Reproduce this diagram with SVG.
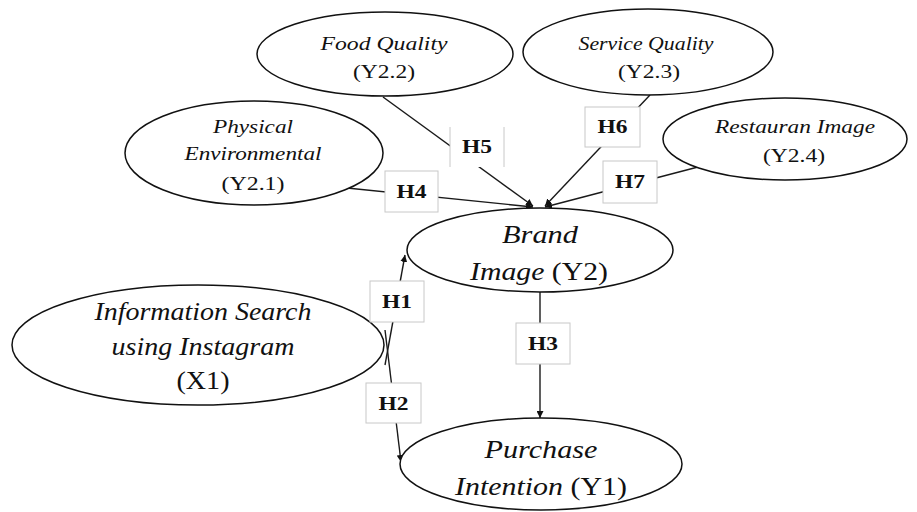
<svg xmlns="http://www.w3.org/2000/svg" width="917" height="512" viewBox="0 0 917 512">
<style>
.node ellipse{fill:#fff;stroke:#111;stroke-width:1.5}
.t{fill:#111;text-anchor:middle}
.i{font-style:italic}
.lbl rect{fill:#fff;stroke:#c8c8c8;stroke-width:1}
.lbl text{font-weight:bold;font-size:18px;fill:#111;text-anchor:middle}
.c{stroke:#1a1a1a;stroke-width:1.4;fill:none}
</style>
<defs>
<marker id="ah" viewBox="0 0 10 10" refX="10" refY="5" markerWidth="7" markerHeight="7" orient="auto" markerUnits="userSpaceOnUse">
<path d="M0,0 L10,5 L0,10 z" fill="#111"/>
</marker>
</defs>
<g id="connectors">
<line class="c" x1="383" y1="97" x2="533" y2="206" marker-end="url(#ah)"/>
<line class="c" x1="650" y1="95" x2="545" y2="206" marker-end="url(#ah)"/>
<line class="c" x1="698" y1="167" x2="545" y2="207" marker-end="url(#ah)"/>
<line class="c" x1="347" y1="188" x2="533" y2="207" marker-end="url(#ah)"/>
<line class="c" x1="385" y1="365" x2="405" y2="255" marker-end="url(#ah)"/>
<line class="c" x1="385" y1="330" x2="401" y2="462" marker-end="url(#ah)"/>
<line class="c" x1="540" y1="292" x2="540" y2="418" marker-end="url(#ah)"/>
</g>
<g font-family="Liberation Serif, Times New Roman, Times, serif">
<g id="food" class="node">
<ellipse cx="385" cy="54" rx="128" ry="42"/>
<text class="t i" x="384" y="50" font-size="19" textLength="127" lengthAdjust="spacingAndGlyphs">Food Quality</text>
<text class="t" x="384" y="78" font-size="19" textLength="62" lengthAdjust="spacingAndGlyphs">(Y2.2)</text>
</g>
<g id="service" class="node">
<ellipse cx="648" cy="52" rx="125" ry="43"/>
<text class="t i" x="646" y="50" font-size="19" textLength="135" lengthAdjust="spacingAndGlyphs">Service Quality</text>
<text class="t" x="649" y="78" font-size="19" textLength="62" lengthAdjust="spacingAndGlyphs">(Y2.3)</text>
</g>
<g id="physical" class="node">
<ellipse cx="254" cy="153" rx="129" ry="52"/>
<text class="t i" x="253" y="133" font-size="19" textLength="80" lengthAdjust="spacingAndGlyphs">Physical</text>
<text class="t i" x="253" y="160" font-size="19" textLength="137" lengthAdjust="spacingAndGlyphs">Environmental</text>
<text class="t" x="253" y="190" font-size="19" textLength="63" lengthAdjust="spacingAndGlyphs">(Y2.1)</text>
</g>
<g id="restaurant" class="node">
<ellipse cx="785" cy="139" rx="122" ry="41"/>
<text class="t i" x="795" y="133" font-size="19" textLength="160" lengthAdjust="spacingAndGlyphs">Restauran Image</text>
<text class="t" x="794" y="162" font-size="19" textLength="62" lengthAdjust="spacingAndGlyphs">(Y2.4)</text>
</g>
<g id="brand" class="node">
<ellipse cx="540" cy="250" rx="133" ry="42"/>
<text class="t i" x="540" y="243" font-size="25" textLength="76" lengthAdjust="spacingAndGlyphs">Brand</text>
<text class="t" x="539" y="280" font-size="25" textLength="138" lengthAdjust="spacingAndGlyphs"><tspan class="i">Image</tspan> (Y2)</text>
</g>
<g id="info" class="node">
<ellipse cx="198" cy="345" rx="186" ry="60"/>
<text class="t i" x="203" y="320" font-size="25" textLength="217" lengthAdjust="spacingAndGlyphs">Information Search</text>
<text class="t i" x="203" y="355" font-size="25" textLength="183" lengthAdjust="spacingAndGlyphs">using Instagram</text>
<text class="t" x="203" y="389" font-size="25" textLength="53" lengthAdjust="spacingAndGlyphs">(X1)</text>
</g>
<g id="purchase" class="node">
<ellipse cx="541" cy="464" rx="141" ry="46"/>
<text class="t i" x="541" y="458" font-size="25" textLength="113" lengthAdjust="spacingAndGlyphs">Purchase</text>
<text class="t" x="541" y="495" font-size="25" textLength="172" lengthAdjust="spacingAndGlyphs"><tspan class="i">Intention</tspan> (Y1)</text>
</g>
<g id="h4" class="lbl"><rect x="385" y="171" width="53" height="41"/><text x="411.5" y="198" textLength="30" lengthAdjust="spacingAndGlyphs">H4</text></g>
<g id="h5" class="lbl"><rect x="450" y="127" width="54" height="40" style="stroke:none"/><line x1="450" y1="127" x2="450" y2="167" stroke="#c8c8c8"/><line x1="504" y1="127" x2="504" y2="167" stroke="#c8c8c8"/><text x="477" y="153" textLength="30" lengthAdjust="spacingAndGlyphs">H5</text></g>
<g id="h6" class="lbl"><rect x="585" y="107" width="55" height="40"/><text x="612.5" y="133" textLength="30" lengthAdjust="spacingAndGlyphs">H6</text></g>
<g id="h7" class="lbl"><rect x="603" y="161" width="54" height="42"/><text x="630" y="188" textLength="30" lengthAdjust="spacingAndGlyphs">H7</text></g>
<g id="h1" class="lbl"><rect x="370" y="281" width="54" height="41"/><text x="397" y="308" textLength="30" lengthAdjust="spacingAndGlyphs">H1</text></g>
<g id="h2" class="lbl"><rect x="366" y="383" width="55" height="40"/><text x="393.5" y="410" textLength="30" lengthAdjust="spacingAndGlyphs">H2</text></g>
<g id="h3" class="lbl"><rect x="516" y="323" width="54" height="41"/><text x="543" y="350" textLength="30" lengthAdjust="spacingAndGlyphs">H3</text></g>
</g>
</svg>
